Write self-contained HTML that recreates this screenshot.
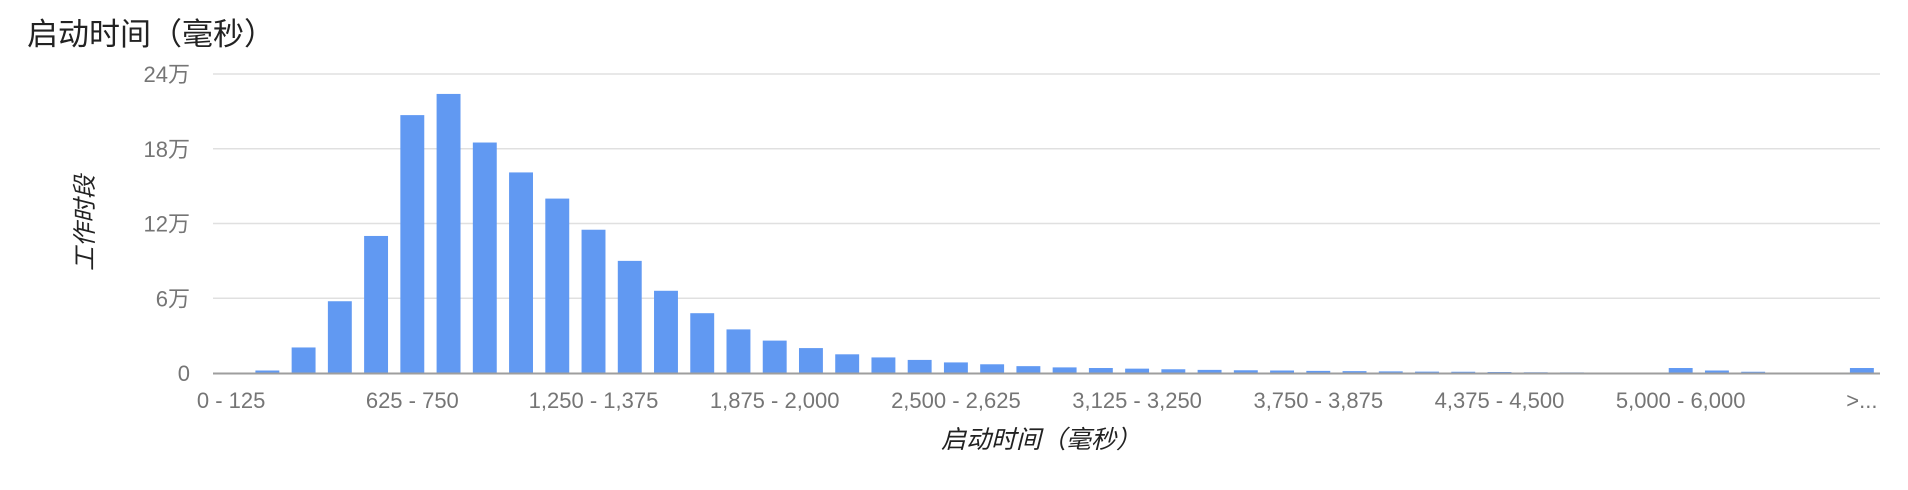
<!DOCTYPE html>
<html><head><meta charset="utf-8"><style>
html,body{margin:0;padding:0;background:#fff;}
svg{display:block;font-family:"Liberation Sans","Noto Sans CJK SC",sans-serif;}
</style></head><body>
<svg id="chart" width="1908" height="490">
<text x="27" y="45" font-size="31" fill="#222">启动时间（毫秒）</text>
<g id="grid"></g><g id="bars"></g><g id="xlabels"></g>
<text x="1041" y="448" font-size="25" font-style="italic" fill="#222" text-anchor="middle">启动时间（毫秒）</text>
<text transform="translate(93,223) rotate(-90)" font-size="24" font-style="italic" fill="#222" text-anchor="middle">工作时段</text>
</svg>
<script>
const categories = ["0 - 125","125 - 250","250 - 375","375 - 500","500 - 625","625 - 750","750 - 875","875 - 1,000","1,000 - 1,125","1,125 - 1,250","1,250 - 1,375","1,375 - 1,500","1,500 - 1,625","1,625 - 1,750","1,750 - 1,875","1,875 - 2,000","2,000 - 2,125","2,125 - 2,250","2,250 - 2,375","2,375 - 2,500","2,500 - 2,625","2,625 - 2,750","2,750 - 2,875","2,875 - 3,000","3,000 - 3,125","3,125 - 3,250","3,250 - 3,375","3,375 - 3,500","3,500 - 3,625","3,625 - 3,750","3,750 - 3,875","3,875 - 4,000","4,000 - 4,125","4,125 - 4,250","4,250 - 4,375","4,375 - 4,500","4,500 - 4,625","4,625 - 4,750","4,750 - 4,875","4,875 - 5,000","5,000 - 6,000","6,000 - 7,000","7,000 - 8,000","8,000 - 9,000","9,000 - 10,000",">..."];
const values = [0,0.2,2.05,5.76,11.0,20.7,22.4,18.5,16.1,14.0,11.5,9.0,6.6,4.8,3.5,2.6,2.0,1.5,1.25,1.05,0.85,0.7,0.55,0.45,0.4,0.35,0.3,0.25,0.22,0.2,0.17,0.15,0.13,0.11,0.1,0.08,0.06,0.05,0.04,0.03,0.4,0.2,0.1,0,0,0.4];
const yTicks = [0,6,12,18,24];
const yTickLabels = ["0","6万","12万","18万","24万"];
const labelEvery = 5;
const ns="http://www.w3.org/2000/svg";
const X0=213,X1=1880,Y0=373,Y1=74,YMAX=24;
const bw=(X1-X0)/categories.length;
function xPos(i){return X0+i*bw;}
function yPos(v){return Y0-(v/YMAX)*(Y0-Y1);}
function mk(tag,attrs,parent){const e=document.createElementNS(ns,tag);for(const k in attrs)e.setAttribute(k,attrs[k]);parent.appendChild(e);return e;}
const grid=document.getElementById('grid');
yTicks.forEach((t,i)=>{
  if(t!==0){const l=mk('line',{x1:X0,x2:X1,y1:yPos(t),y2:yPos(t),stroke:'#e0e0e0','stroke-width':1.5},grid);
  
  }
  const tx=mk('text',{x:190,y:yPos(t)+8,'font-size':22,fill:'#757575','text-anchor':'end'},grid);
  tx.textContent=yTickLabels[i];
  
  
});
const bars=document.getElementById('bars');
values.forEach((v,i)=>{
  const w=bw*0.66;
  const r=mk('rect',{x:xPos(i)+(bw-w)/2,y:yPos(v),width:w,height:Math.max(0,Y0-yPos(v)),fill:'#6199f2'},bars);
  
  
});
const ax=mk('line',{x1:X0,x2:X1,y1:Y0+0.5,y2:Y0+0.5,stroke:'#9e9e9e','stroke-width':2},bars);


const xl=document.getElementById('xlabels');
categories.forEach((c,i)=>{
  if(i%labelEvery!==0)return;
  const t=mk('text',{x:xPos(i)+bw/2,y:408,'font-size':22,fill:'#757575','text-anchor':'middle'},xl);
  t.textContent=c;
  
  
});
</script>
</body></html>
